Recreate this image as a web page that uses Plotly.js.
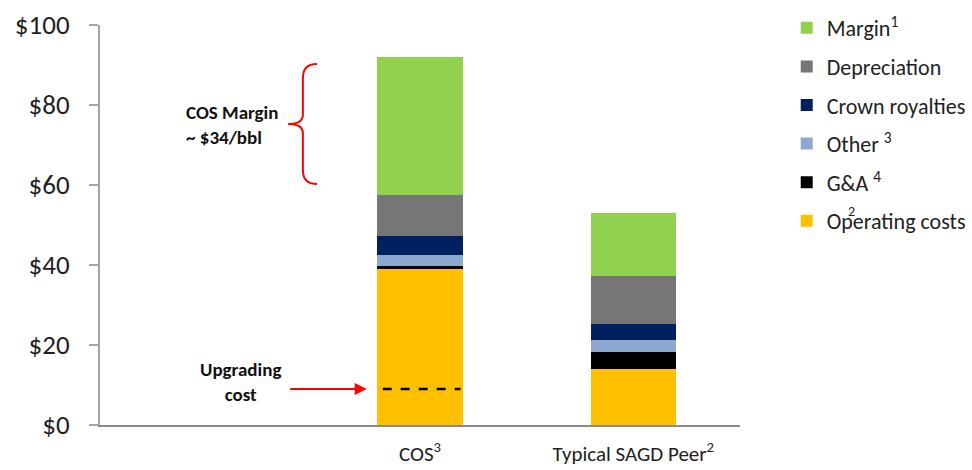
<!DOCTYPE html>
<html><head><meta charset="utf-8">
<script src="https://cdn.plot.ly/plotly-3.0.1.min.js"></script>
<style>html,body{margin:0;padding:0;background:#fff;}#chart{width:972px;height:470px;}</style>
</head><body><div id="chart"></div>
<script>
var categories = ['COS<sup>3</sup>', 'Typical SAGD Peer<sup>2</sup>'];
var seriesNames = ['Operating costs', 'G&A <sup>4</sup>', 'Other <sup>3</sup>', 'Crown royalties', 'Depreciation', 'Margin<sup>1</sup>'];
var operatingCosts = [38.9, 13.9];
var gAndA = [0.9, 4.4];
var other = [2.7, 3.0];
var crownRoyalties = [4.8, 4.0];
var depreciation = [10.2, 12.0];
var margin = [34.5, 15.6];
var seriesColors = ['#FFC000', '#000000', '#8EA9CF', '#002060', '#767676', '#92D050'];
var upgradingCost = 9;
var yTicks = [0, 20, 40, 60, 80, 100];

var seriesValues = [operatingCosts, gAndA, other, crownRoyalties, depreciation, margin];
var FONT = 'Carlito, Lato, "Open Sans", sans-serif';
var traces = seriesValues.map(function (vals, i) {
  return {
    type: 'bar', x: categories, y: vals, name: seriesNames[i],
    marker: {color: seriesColors[i], line: {width: 0}},
    width: 0.4, hoverinfo: 'skip', legendgroup: 'g' + i,
    legendrank: seriesValues.length - i
  };
});

var layout = {
  width: 972, height: 470,
  margin: {l: 100, r: 232, t: 25, b: 45, autoexpand: false},
  paper_bgcolor: '#fff', plot_bgcolor: '#fff',
  barmode: 'stack', showlegend: true,
  font: {family: FONT, color: '#222'},
  xaxis: {
    range: [-1.5, 1.5], showgrid: false, zeroline: false,
    showline: true, linecolor: '#8c8c8c', linewidth: 2, ticks: '',
    tickfont: {size: 21, color: '#222'}, ticklabelstandoff: 9, fixedrange: true
  },
  yaxis: {
    range: [0, 100], tickvals: yTicks, ticktext: yTicks.map(function (v) { return '$' + v; }),
    showgrid: false, zeroline: false, showline: true, linecolor: '#a6a6a6', linewidth: 2,
    ticks: 'outside', ticklen: 9, tickcolor: '#a6a6a6', tickwidth: 1.5,
    tickfont: {size: 27, color: '#222'}, ticklabelstandoff: 14, fixedrange: true
  },
  legend: {
    x: 1.073, y: 1.045, xanchor: 'left', yanchor: 'top',
    traceorder: 'grouped', tracegroupgap: 7,
    font: {size: 22, color: '#222', family: FONT},
    itemwidth: 30, bgcolor: 'rgba(0,0,0,0)'
  },
  shapes: [
    {type: 'path', xref: 'paper', yref: 'y',
     path: 'M0.339,90.25 Q0.317,90.25 0.317,86.75 L0.317,77.5 Q0.317,75.25 0.294,75.25 Q0.317,75.25 0.317,73 L0.317,63.75 Q0.317,60.25 0.339,60.25',
     line: {color: '#FF0000', width: 2}},
    {type: 'line', xref: 'x', yref: 'y', x0: -0.175, x1: 0.19, y0: upgradingCost, y1: upgradingCost,
     line: {color: '#000', width: 2.5, dash: 'dash'}}
  ],
  annotations: [
    {xref: 'paper', yref: 'y', x: 0.131, y: 75.1, xanchor: 'left', yanchor: 'middle', align: 'left',
     text: '<b>COS Margin<br>~ $34/bbl</b>', showarrow: false, font: {size: 19, color: '#111', family: FONT}},
    {xref: 'paper', yref: 'y', x: 0.219, y: 10.75, xanchor: 'center', yanchor: 'middle', align: 'center',
     text: '<b>Upgrading<br>cost</b>', showarrow: false, font: {size: 19, color: '#111', family: FONT}},
    {xref: 'x', yref: 'y', x: -0.25, y: upgradingCost, ax: -78, ay: 0, text: '', showarrow: true,
     arrowhead: 2, arrowsize: 1.2, arrowwidth: 2, arrowcolor: '#FF0000'},
    {xref: 'paper', yref: 'paper', x: 1.166, y: 0.535, xanchor: 'left', yanchor: 'middle',
     text: '2', showarrow: false, font: {size: 14, color: '#222', family: FONT}}
  ]
};
Plotly.newPlot('chart', traces, layout, {displayModeBar: false, staticPlot: true});
</script></body></html>
